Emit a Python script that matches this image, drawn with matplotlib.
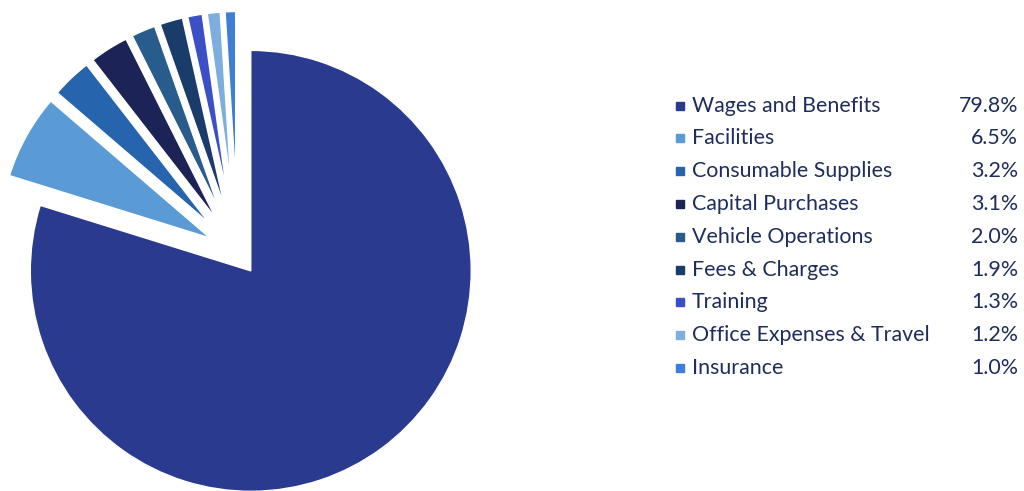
import matplotlib.pyplot as plt

categories = ["Wages and Benefits", "Facilities", "Consumable Supplies", "Capital Purchases",
              "Vehicle Operations", "Fees & Charges", "Training", "Office Expenses & Travel",
              "Insurance"]
shares = [79.8, 6.5, 3.2, 3.1, 2.0, 1.9, 1.3, 1.2, 1.0]

colors = ["#2A3A8F", "#5B9BD5", "#2764AE", "#1B2357", "#275C8C",
          "#1A3C6A", "#3B50C4", "#7EAEDD", "#3D7FD6"]
explode = [0.089, 0.132, 0.17, 0.17, 0.20, 0.20, 0.255, 0.285, 0.30]

W, H = 1024, 491
fig = plt.figure(figsize=(W / 100, H / 100), dpi=100)
ax = fig.add_axes([0, 0, 1, 1])

# pie in pixel coordinates (explode is given in data units by matplotlib)
R = 242
wedges, _ = ax.pie(shares, colors=colors, explode=[e * R for e in explode], startangle=90,
                   counterclock=False, radius=R, center=(238, H - 253.5),
                   wedgeprops=dict(linewidth=1.0, edgecolor="white"))
ax.set_xlim(0, W)
ax.set_ylim(0, H)
ax.set_aspect("equal")
ax.axis("off")
# slices pushed out further are drawn smaller, keeping the outer rim aligned
for w, e in zip(wedges, explode):
    w.set_radius(R * (1 - e))

# legend with values
text_color = "#1F2D5C"
y0, dy = H - 105.5, 32.8
for i, (name, val) in enumerate(zip(categories, shares)):
    y = y0 - i * dy
    ax.plot(680, y, marker="s", markersize=5.5, color=colors[i], linestyle="none")
    ax.text(692, y, name, fontsize=15.4, family="Lato", color=text_color,
            va="center", ha="left")
    ax.text(1018, y, f"{val:.1f}%", fontsize=15.4, family="Lato", color=text_color,
            va="center", ha="right")

fig.savefig("out.png", dpi=100)
